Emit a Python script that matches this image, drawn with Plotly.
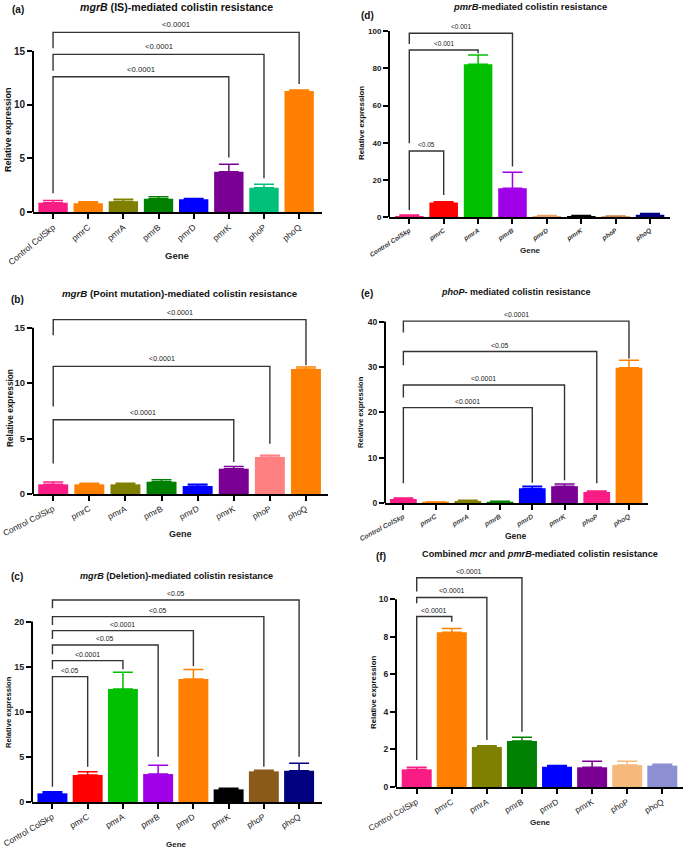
import plotly.graph_objects as go

# ---------------- data ----------------
genes = ["Control ColSkp", "pmrC", "pmrA", "pmrB", "pmrD", "pmrK", "phoP", "phoQ"]

# (a) mgrB (IS)
a_mean = [0.87, 0.81, 1.00, 1.24, 1.18, 3.76, 2.27, 11.27]
a_upper = [1.08, 0.96, 1.18, 1.43, 1.27, 4.44, 2.58, 11.37]
a_colors = ["#F81C84", "#FF8000", "#808000", "#008000", "#0000FF", "#7A0094", "#00C07A", "#FF8000"]
a_targets = [5, 6, 7]
a_heights = [12.61, 14.69, 16.74]
a_left = [1.74, 13.17, 15.25]
a_right = [5.09, 3.14, 11.93]
a_labels = ["<0.0001", "<0.0001", "<0.0001"]
a_yticks = [0, 5, 10, 15]

# (b) mgrB (Point mutation)
b_mean = [0.87, 0.87, 0.87, 1.11, 0.72, 2.28, 3.34, 11.27]
b_upper = [1.08, 0.96, 0.96, 1.29, 0.87, 2.49, 3.49, 11.45]
b_colors = ["#F81C84", "#FF8000", "#808000", "#008000", "#0000FF", "#7A0094", "#FF8080", "#FF8000"]
b_targets = [5, 6, 7]
b_heights = [6.70, 11.51, 15.72]
b_left = [2.74, 7.90, 14.31]
b_right = [2.89, 4.54, 11.60]
b_labels = ["<0.0001", "<0.0001", "<0.0001"]
b_yticks = [0, 5, 10, 15]

# (c) mgrB (Deletion)
c_mean = [0.96, 3.00, 12.53, 3.10, 13.64, 1.40, 3.40, 3.47]
c_upper = [1.15, 3.36, 14.38, 4.07, 14.68, 1.52, 3.51, 4.29]
c_colors = ["#0000FF", "#FF0000", "#00C000", "#A000E8", "#FF8000", "#000000", "#8B5A1A", "#000080"]
c_targets = [1, 2, 3, 4, 6, 7]
c_heights = [13.9, 15.67, 17.41, 19.0, 20.55, 22.4]
c_left = [1.70, 14.71, 16.38, 18.08, 19.63, 21.48]
c_right = [3.92, 14.71, 5.03, 15.08, 3.92, 5.03]
c_labels = ["<0.05", "<0.0001", "<0.05", "<0.0001", "<0.05", "<0.05"]
c_yticks = [0, 5, 10, 15, 20]

# (d) pmrB
d_mean = [0.7, 7.9, 82.1, 15.6, 0.7, 0.7, 0.5, 1.3]
d_upper = [1.2, 8.4, 87.1, 24.2, 1.0, 1.0, 0.7, 2.1]
d_colors = ["#F81C84", "#FF0000", "#00C000", "#A000E8", "#F0A060", "#000000", "#D08040", "#000080"]
d_targets = [1, 2, 3]
d_heights = [35.6, 89.8, 98.8]
d_left = [3.9, 39.7, 93.0]
d_right = [12.0, 88.0, 27.2]
d_labels = ["<0.05", "<0.001", "<0.001"]
d_yticks = [0, 20, 40, 60, 80, 100]

# (e) phoP
e_mean = [0.95, 0.22, 0.51, 0.29, 3.30, 3.74, 2.49, 29.86]
e_upper = [1.17, 0.30, 0.66, 0.44, 3.74, 4.26, 2.71, 31.47]
e_colors = ["#F81C84", "#FF8000", "#808000", "#008000", "#0000FF", "#7A0094", "#F81C84", "#FF8000"]
e_targets = [4, 5, 6, 7]
e_heights = [21.06, 26.05, 33.4, 40.1]
e_left = [4.4, 23.3, 30.4, 37.6]
e_right = [4.55, 5.1, 4.4, 31.9]
e_labels = ["<0.0001", "<0.0001", "<0.05", "<0.0001"]
e_yticks = [0, 10, 20, 30, 40]

# (f) mcr + pmrB
f_mean = [0.94, 8.24, 2.13, 2.45, 1.08, 1.05, 1.17, 1.14]
f_upper = [1.05, 8.45, 2.20, 2.65, 1.14, 1.37, 1.37, 1.21]
f_colors = ["#F81C84", "#FF8000", "#808000", "#008000", "#0000FF", "#7A0094", "#F5B97E", "#8C90D2"]
f_targets = [1, 2, 3]
f_heights = [9.08, 10.1, 11.15]
f_left = [1.44, 9.79, 10.41]
f_right = [8.81, 2.50, 2.95]
f_labels = ["<0.0001", "<0.0001", "<0.0001"]
f_yticks = [0, 2, 4, 6, 8, 10]

# ---------------- layout geometry ----------------
W, H = 685, 850
FONT = "Liberation Sans, Arial, sans-serif"

panels = [
    dict(letter="(a)", title="<b><i>mgrB</i> (IS)-mediated colistin resistance</b>",
         mean=a_mean, upper=a_upper, colors=a_colors,
         br=(a_targets, a_heights, a_left, a_right, a_labels), yticks=a_yticks,
         xpx=(33, 322), xr=(-0.57, 7.65), y0=212, ppu=10.73, ymax=17.5,
         tpos=(176, 7, 10.6), lpos=(18, 9), ylab=(8, 130, 9), gene=(177, 255, 9.5),
         angle=-40, tfont=dict(size=8.6, color="#222"), ytsize=10, bsize=7.7, bw=0.835),
    dict(letter="(b)", title="<b><i>mgrB</i> (Point mutation)-mediated colistin resistance</b>",
         mean=b_mean, upper=b_upper, colors=b_colors,
         br=(b_targets, b_heights, b_left, b_right, b_labels), yticks=b_yticks,
         xpx=(33, 328), xr=(-0.56, 7.61), y0=494, ppu=11.09, ymax=16.5,
         tpos=(180, 293, 9.7), lpos=(17, 299), ylab=(10, 408, 8.3), gene=(180, 534, 9),
         angle=-27, tfont=dict(size=8.4, color="#222"), ytsize=9.5, bsize=7.1, bw=0.83),
    dict(letter="(c)", title="<b><i>mgrB</i> (Deletion)-mediated colistin resistance</b>",
         mean=c_mean, upper=c_upper, colors=c_colors,
         br=(c_targets, c_heights, c_left, c_right, c_labels), yticks=c_yticks,
         xpx=(32, 322), xr=(-0.58, 7.65), y0=802, ppu=9.02, ymax=23.5,
         tpos=(176, 576, 9.1), lpos=(17, 576), ylab=(8, 712, 7.6), gene=(176, 844, 8),
         angle=-30, tfont=dict(size=8.4, color="#222"), ytsize=9, bsize=6.9, bw=0.85),
    dict(letter="(d)", title="<b><i>pmrB</i>-mediated colistin resistance</b>",
         mean=d_mean, upper=d_upper, colors=d_colors,
         br=(d_targets, d_heights, d_left, d_right, d_labels), yticks=d_yticks,
         xpx=(389, 670), xr=(-0.59, 7.58), y0=217.3, ppu=1.863, ymax=102,
         tpos=(530, 6, 9.4), lpos=(367, 15), ylab=(361, 123, 7.9), gene=(530, 250, 8),
         angle=-33, tfont=dict(size=6.5, color="#333", weight="bold", style="italic"),
         ytsize=8, bsize=6.5, bw=0.83),
    dict(letter="(e)", title="<b><i>phoP</i>- mediated colistin resistance</b>",
         mean=e_mean, upper=e_upper, colors=e_colors,
         br=(e_targets, e_heights, e_left, e_right, e_labels), yticks=e_yticks,
         xpx=(385, 648), xr=(-0.57, 7.59), y0=503.3, ppu=4.543, ymax=41.5,
         tpos=(516, 292, 9), lpos=(367, 293), ylab=(361, 412, 7.6), gene=(516, 536, 8.5),
         angle=-28, tfont=dict(size=6.8, color="#444", weight="bold", style="italic"),
         ytsize=8.5, bsize=6.9, bw=0.83),
    dict(letter="(f)", title="<b>Combined <i>mcr</i> and <i>pmrB</i>-mediated colistin resistance</b>",
         mean=f_mean, upper=f_upper, colors=f_colors,
         br=(f_targets, f_heights, f_left, f_right, f_labels), yticks=f_yticks,
         xpx=(396, 683), xr=(-0.59, 7.59), y0=787, ppu=18.77, ymax=11.6,
         tpos=(540, 554, 9.2), lpos=(381, 556), ylab=(373, 693, 7.8), gene=(540, 822, 8),
         angle=-30, tfont=dict(size=8.3, color="#222"), ytsize=8.5, bsize=7, bw=0.855),
]

fig = go.Figure()
annotations = []
shapes = []
layout_axes = {}


def px_x(x):
    return x / W


def px_y(y):
    return 1 - y / H


for k, p in enumerate(panels, start=1):
    sfx = "" if k == 1 else str(k)
    xa, ya = f"x{sfx}", f"y{sfx}"
    # bars with upper error bars
    for i, g in enumerate(genes):
        fig.add_trace(go.Bar(
            x=[i], y=[p["mean"][i]], width=p["bw"],
            marker=dict(color=p["colors"][i], line=dict(width=0)),
            error_y=dict(type="data", symmetric=False,
                         array=[p["upper"][i] - p["mean"][i]], arrayminus=[0],
                         color=p["colors"][i], thickness=1.5, width=10),
            xaxis=xa, yaxis=ya, showlegend=False, hoverinfo="skip"))
    # significance brackets
    targets, heights, lefts, rights, labels = p["br"]
    for t, h, l, r, lab in zip(targets, heights, lefts, rights, labels):
        fig.add_trace(go.Scatter(
            x=[0, 0, t, t], y=[l, h, h, r], mode="lines",
            line=dict(color="#333333", width=1.4),
            xaxis=xa, yaxis=ya, showlegend=False, hoverinfo="skip", cliponaxis=False))
        annotations.append(dict(
            x=t / 2, y=h, xref=xa, yref=ya, text=lab, showarrow=False,
            yanchor="bottom", yshift=1, font=dict(family=FONT, size=p["bsize"], color="#222")))

    top_px = p["y0"] - p["ymax"] * p["ppu"]
    layout_axes[f"xaxis{sfx}"] = dict(
        domain=[px_x(p["xpx"][0]), px_x(p["xpx"][1])], range=list(p["xr"]),
        anchor=ya, tickmode="array", tickvals=list(range(len(genes))), ticktext=genes,
        tickangle=p["angle"], ticks="outside", ticklen=5, tickwidth=1.5, tickcolor="black",
        showline=True, linecolor="black", linewidth=2, showgrid=False, zeroline=False,
        tickfont=dict(family=FONT, **p["tfont"]), fixedrange=True, automargin=False,
        ticklabeloverflow="allow")
    layout_axes[f"yaxis{sfx}"] = dict(
        domain=[px_y(p["y0"]), px_y(top_px)], range=[0, p["ymax"]], anchor=xa,
        tickmode="array", tickvals=p["yticks"], ticks="outside", ticklen=5, tickwidth=2,
        tickcolor="black", showline=False, showgrid=False, zeroline=False,
        tickfont=dict(family=FONT, size=p["ytsize"], color="#222", weight="bold"),
        fixedrange=True, automargin=False)
    shapes.append(dict(type="line", xref=f"{xa} domain", yref=ya, x0=0, x1=0,
                       y0=0, y1=p["yticks"][-1], line=dict(color="black", width=2)))

    # titles and labels
    tx, ty, ts = p["tpos"]
    annotations.append(dict(x=px_x(tx), y=px_y(ty), xref="paper", yref="paper",
                            text=p["title"], showarrow=False, xanchor="center", yanchor="middle",
                            font=dict(family=FONT, size=ts, color="#111")))
    lx, ly = p["lpos"]
    annotations.append(dict(x=px_x(lx), y=px_y(ly), xref="paper", yref="paper",
                            text=f"<b>{p['letter']}</b>", showarrow=False, xanchor="center",
                            yanchor="middle", font=dict(family=FONT, size=10, color="#111")))
    yx, yy, ys = p["ylab"]
    annotations.append(dict(x=px_x(yx), y=px_y(yy), xref="paper", yref="paper",
                            text="<b>Relative expression</b>", showarrow=False, textangle=-90,
                            xanchor="center", yanchor="middle",
                            font=dict(family=FONT, size=ys, color="#111")))
    gx, gy, gs = p["gene"]
    annotations.append(dict(x=px_x(gx), y=px_y(gy), xref="paper", yref="paper",
                            text="<b>Gene</b>", showarrow=False, xanchor="center",
                            yanchor="middle", font=dict(family=FONT, size=gs, color="#222")))

fig.update_layout(
    width=W, height=H, margin=dict(l=0, r=0, t=0, b=0, autoexpand=False),
    paper_bgcolor="white", plot_bgcolor="white", barmode="overlay",
    font=dict(family=FONT), annotations=annotations, shapes=shapes, **layout_axes)

fig.write_html(
    "out.html",
    config={"displayModeBar": False},
    post_script="document.body.style.margin='0';document.body.style.padding='0';"
                "document.body.style.overflow='hidden';",
)
